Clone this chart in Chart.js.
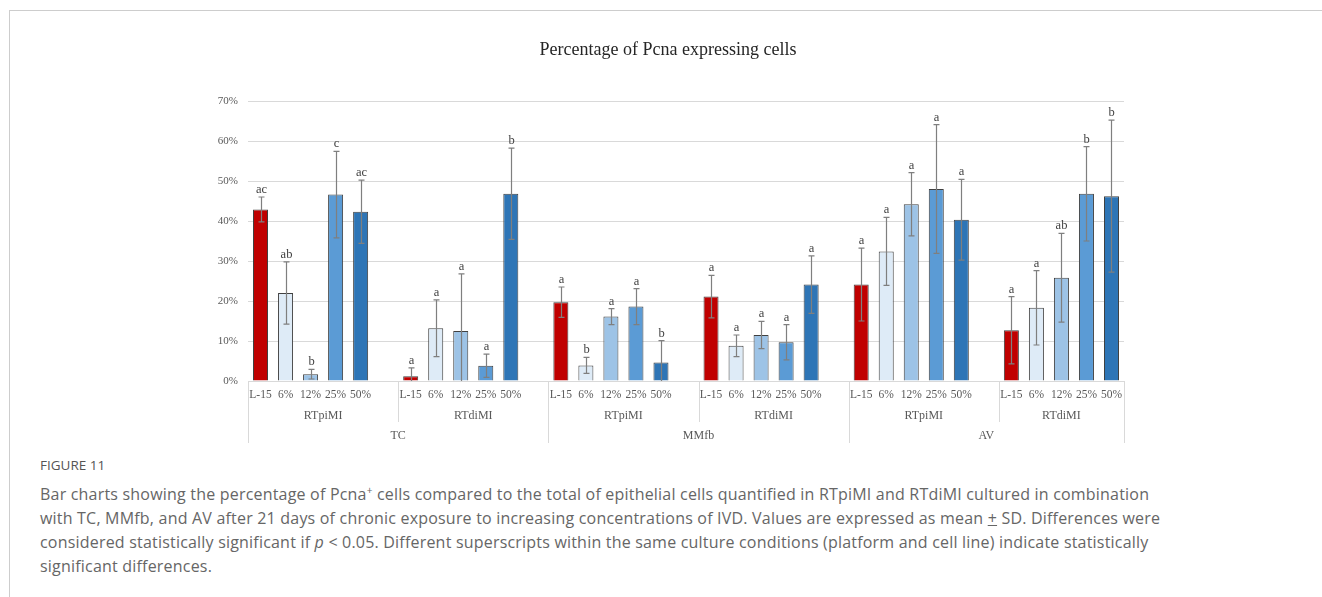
<!DOCTYPE html>
<html>
<head>
<meta charset="utf-8">
<script src="https://cdn.jsdelivr.net/npm/chart.js@4/dist/chart.umd.min.js"></script>
<style>
  html, body { margin: 0; padding: 0; background: #fff; }
  body { width: 1322px; height: 597px; overflow: hidden; position: relative; }
  #frame { position: absolute; left: 9px; top: 10px; right: 0; bottom: -5px;
           border-left: 1px solid #cdcdcd; border-top: 1px solid #cdcdcd; }
  #wrap { position: absolute; left: 0; top: 0; width: 1322px; height: 450px; }
  #cap { position: absolute; left: 40px; top: 454px; font-family: "Open Sans", Lato, sans-serif;
         color: #666; white-space: nowrap; }
  #cap .fig { font-size: 13.5px; color: #555; height: 28px; line-height: 22px; }
  #cap .txt { font-size: 16px; line-height: 24px; letter-spacing: 0.2px; }
  #cap sup { font-size: 10px; line-height: 0; }
</style>
</head>
<body>
<div id="frame"></div>
<div id="wrap"><canvas id="myChart"></canvas></div>
<div id="cap">
  <div class="fig">FIGURE 11</div>
  <div class="txt">
    Bar charts showing the percentage of Pcna<sup>+</sup> cells compared to the total of epithelial cells quantified in RTpiMI and RTdiMI cultured in combination<br>
    with TC, MMfb, and AV after 21 days of chronic exposure to increasing concentrations of IVD. Values are expressed as mean <u>+</u> SD. Differences were<br>
    considered statistically significant if <i>p</i> &lt; 0.05. Different superscripts within the same culture conditions (platform and cell line) indicate statistically<br>
    significant differences.
  </div>
</div>
<script>
// categories
var concLabels = ['L-15', '6%', '12%', '25%', '50%'];
var platforms = ['RTpiMI', 'RTdiMI'];
var cellLines = ['TC', 'MMfb', 'AV'];
var concColors = ['#C00000', '#DEEBF7', '#9DC3E6', '#5B9BD5', '#2E75B6'];
var yTicks = [0, 10, 20, 30, 40, 50, 60, 70];

// mean % per cell line: RTpiMI (5 values) then RTdiMI (5 values)
var tcMean   = [42.9, 22.0, 1.7, 46.6, 42.3,   1.2, 13.2, 12.5, 3.8, 46.8];
var tcSD     = [3.1, 7.8, 1.2, 10.8, 7.9,      2.1, 7.1, 14.3, 2.9, 11.4];
var tcSig    = ['ac', 'ab', 'b', 'c', 'ac',    'a', 'a', 'a', 'a', 'b'];

var mmfbMean = [19.7, 3.9, 16.1, 18.6, 4.6,    21.1, 8.8, 11.5, 9.7, 24.1];
var mmfbSD   = [3.8, 2.0, 2.0, 4.5, 5.5,       5.3, 2.7, 3.4, 4.4, 7.2];
var mmfbSig  = ['a', 'b', 'a', 'a', 'b',       'a', 'a', 'a', 'a', 'a'];

var avMean   = [24.1, 32.4, 44.2, 48.0, 40.3,  12.7, 18.3, 25.8, 46.8, 46.2];
var avSD     = [9.1, 8.5, 7.9, 16.1, 10.1,     8.4, 9.3, 11.1, 11.8, 19.0];
var avSig    = ['a', 'a', 'a', 'a', 'a',       'a', 'a', 'ab', 'b', 'b'];

var allMean = [tcMean, mmfbMean, avMean];
var allSD = [tcSD, mmfbSD, avSD];
var allSig = [tcSig, mmfbSig, avSig];

// flatten into category slots, one empty slot between platform groups
var labels = [], values = [], sds = [], sigs = [], colors = [], groups = [];
cellLines.forEach(function (c, ci) {
  platforms.forEach(function (p, pi) {
    var start = labels.length;
    concLabels.forEach(function (lab, k) {
      labels.push(lab);
      values.push(allMean[ci][pi * 5 + k]);
      sds.push(allSD[ci][pi * 5 + k]);
      sigs.push(allSig[ci][pi * 5 + k]);
      colors.push(concColors[k]);
    });
    var last = (ci === cellLines.length - 1 && pi === platforms.length - 1);
    if (!last) {
      labels.push(''); values.push(null); sds.push(null); sigs.push(''); colors.push('#fff');
    }
    groups.push({ name: p, cell: ci, first: start, slots: last ? 5 : 6 });
  });
});

var serif = "'Liberation Serif', 'Times New Roman', serif";

var extras = {
  id: 'extras',
  afterDatasetsDraw: function (chart) {
    var ctx = chart.ctx, x = chart.scales.x, y = chart.scales.y;
    ctx.save();
    // error bars
    ctx.strokeStyle = '#7f7f7f';
    ctx.lineWidth = 1.2;
    for (var i = 0; i < values.length; i++) {
      if (values[i] == null) continue;
      var cx = Math.round(x.getPixelForValue(i)) + 0.5;
      var hi = values[i] + sds[i], lo = values[i] - sds[i];
      var yh = y.getPixelForValue(hi), yl = y.getPixelForValue(Math.max(lo, 0));
      ctx.beginPath();
      ctx.moveTo(cx, yh); ctx.lineTo(cx, yl);
      ctx.moveTo(cx - 3, yh); ctx.lineTo(cx + 3, yh);
      if (lo > 0) { ctx.moveTo(cx - 3, yl); ctx.lineTo(cx + 3, yl); }
      ctx.stroke();
      // significance letters
      ctx.fillStyle = '#404040';
      ctx.font = '12.5px ' + serif;
      ctx.textAlign = 'center';
      ctx.textBaseline = 'alphabetic';
      ctx.fillText(sigs[i], cx, yh - 4);
    }
    ctx.restore();
  },
  afterDraw: function (chart) {
    var ctx = chart.ctx, x = chart.scales.x, area = chart.chartArea;
    var slot = x.getPixelForValue(1) - x.getPixelForValue(0);
    ctx.save();
    // title
    ctx.fillStyle = '#262626';
    ctx.font = '18px ' + serif;
    ctx.textAlign = 'center';
    ctx.textBaseline = 'middle';
    ctx.fillText('Percentage of Pcna expressing cells', 668, 50);
    // multi-level category axis
    ctx.strokeStyle = '#d9d9d9';
    ctx.lineWidth = 1;
    ctx.fillStyle = '#595959';
    ctx.font = '12px ' + serif;
    var cellSpan = {};
    groups.forEach(function (g) {
      var left = x.getPixelForValue(g.first) - slot / 2;
      var right = left + g.slots * slot;
      ctx.fillText(g.name, (left + right) / 2, 416);
      var lx = Math.round(left) + 0.5;
      var outer = !cellSpan[g.cell];
      ctx.beginPath();
      ctx.moveTo(lx, area.bottom);
      ctx.lineTo(lx, outer ? 443 : 422);
      ctx.stroke();
      if (!cellSpan[g.cell]) cellSpan[g.cell] = { left: left, right: right };
      else cellSpan[g.cell].right = right;
    });
    var rx = Math.round(area.right) + 0.5;
    ctx.beginPath(); ctx.moveTo(rx, area.bottom); ctx.lineTo(rx, 443); ctx.stroke();
    cellLines.forEach(function (c, ci) {
      var s = cellSpan[ci];
      ctx.fillText(c, (s.left + s.right) / 2, 436);
    });
    ctx.restore();
  }
};

var ctx = document.getElementById('myChart').getContext('2d');
var myChart = new Chart(ctx, {
  type: 'bar',
  data: {
    labels: labels,
    datasets: [{
      label: 'Pcna+',
      data: values,
      backgroundColor: colors,
      borderColor: '#404040',
      borderWidth: 1,
      barPercentage: 0.6,
      categoryPercentage: 1
    }]
  },
  options: {
    responsive: true,
    maintainAspectRatio: false,
    animation: false,
    layout: { padding: { left: 200, right: 198, top: 101, bottom: 0 } },
    plugins: { legend: { display: false }, title: { display: false }, tooltip: { enabled: false } },
    scales: {
      x: {
        grid: { display: false, drawTicks: false },
        border: { display: false },
        ticks: { autoSkip: false, maxRotation: 0, minRotation: 0, padding: 7, color: '#595959',
                 font: { family: serif, size: 11.5 } },
        afterFit: function (s) { s.height = 69; }
      },
      y: {
        min: 0, max: 70,
        afterBuildTicks: function (s) { s.ticks = yTicks.map(function (v) { return { value: v }; }); },
        grid: { color: '#d9d9d9', drawTicks: false },
        border: { display: false },
        ticks: { padding: 10, color: '#595959', font: { family: serif, size: 11 },
                 callback: function (v) { return v + '%'; } },
        afterFit: function (s) { s.width = 48; }
      }
    }
  },
  plugins: [extras]
});
</script>
</body>
</html>
